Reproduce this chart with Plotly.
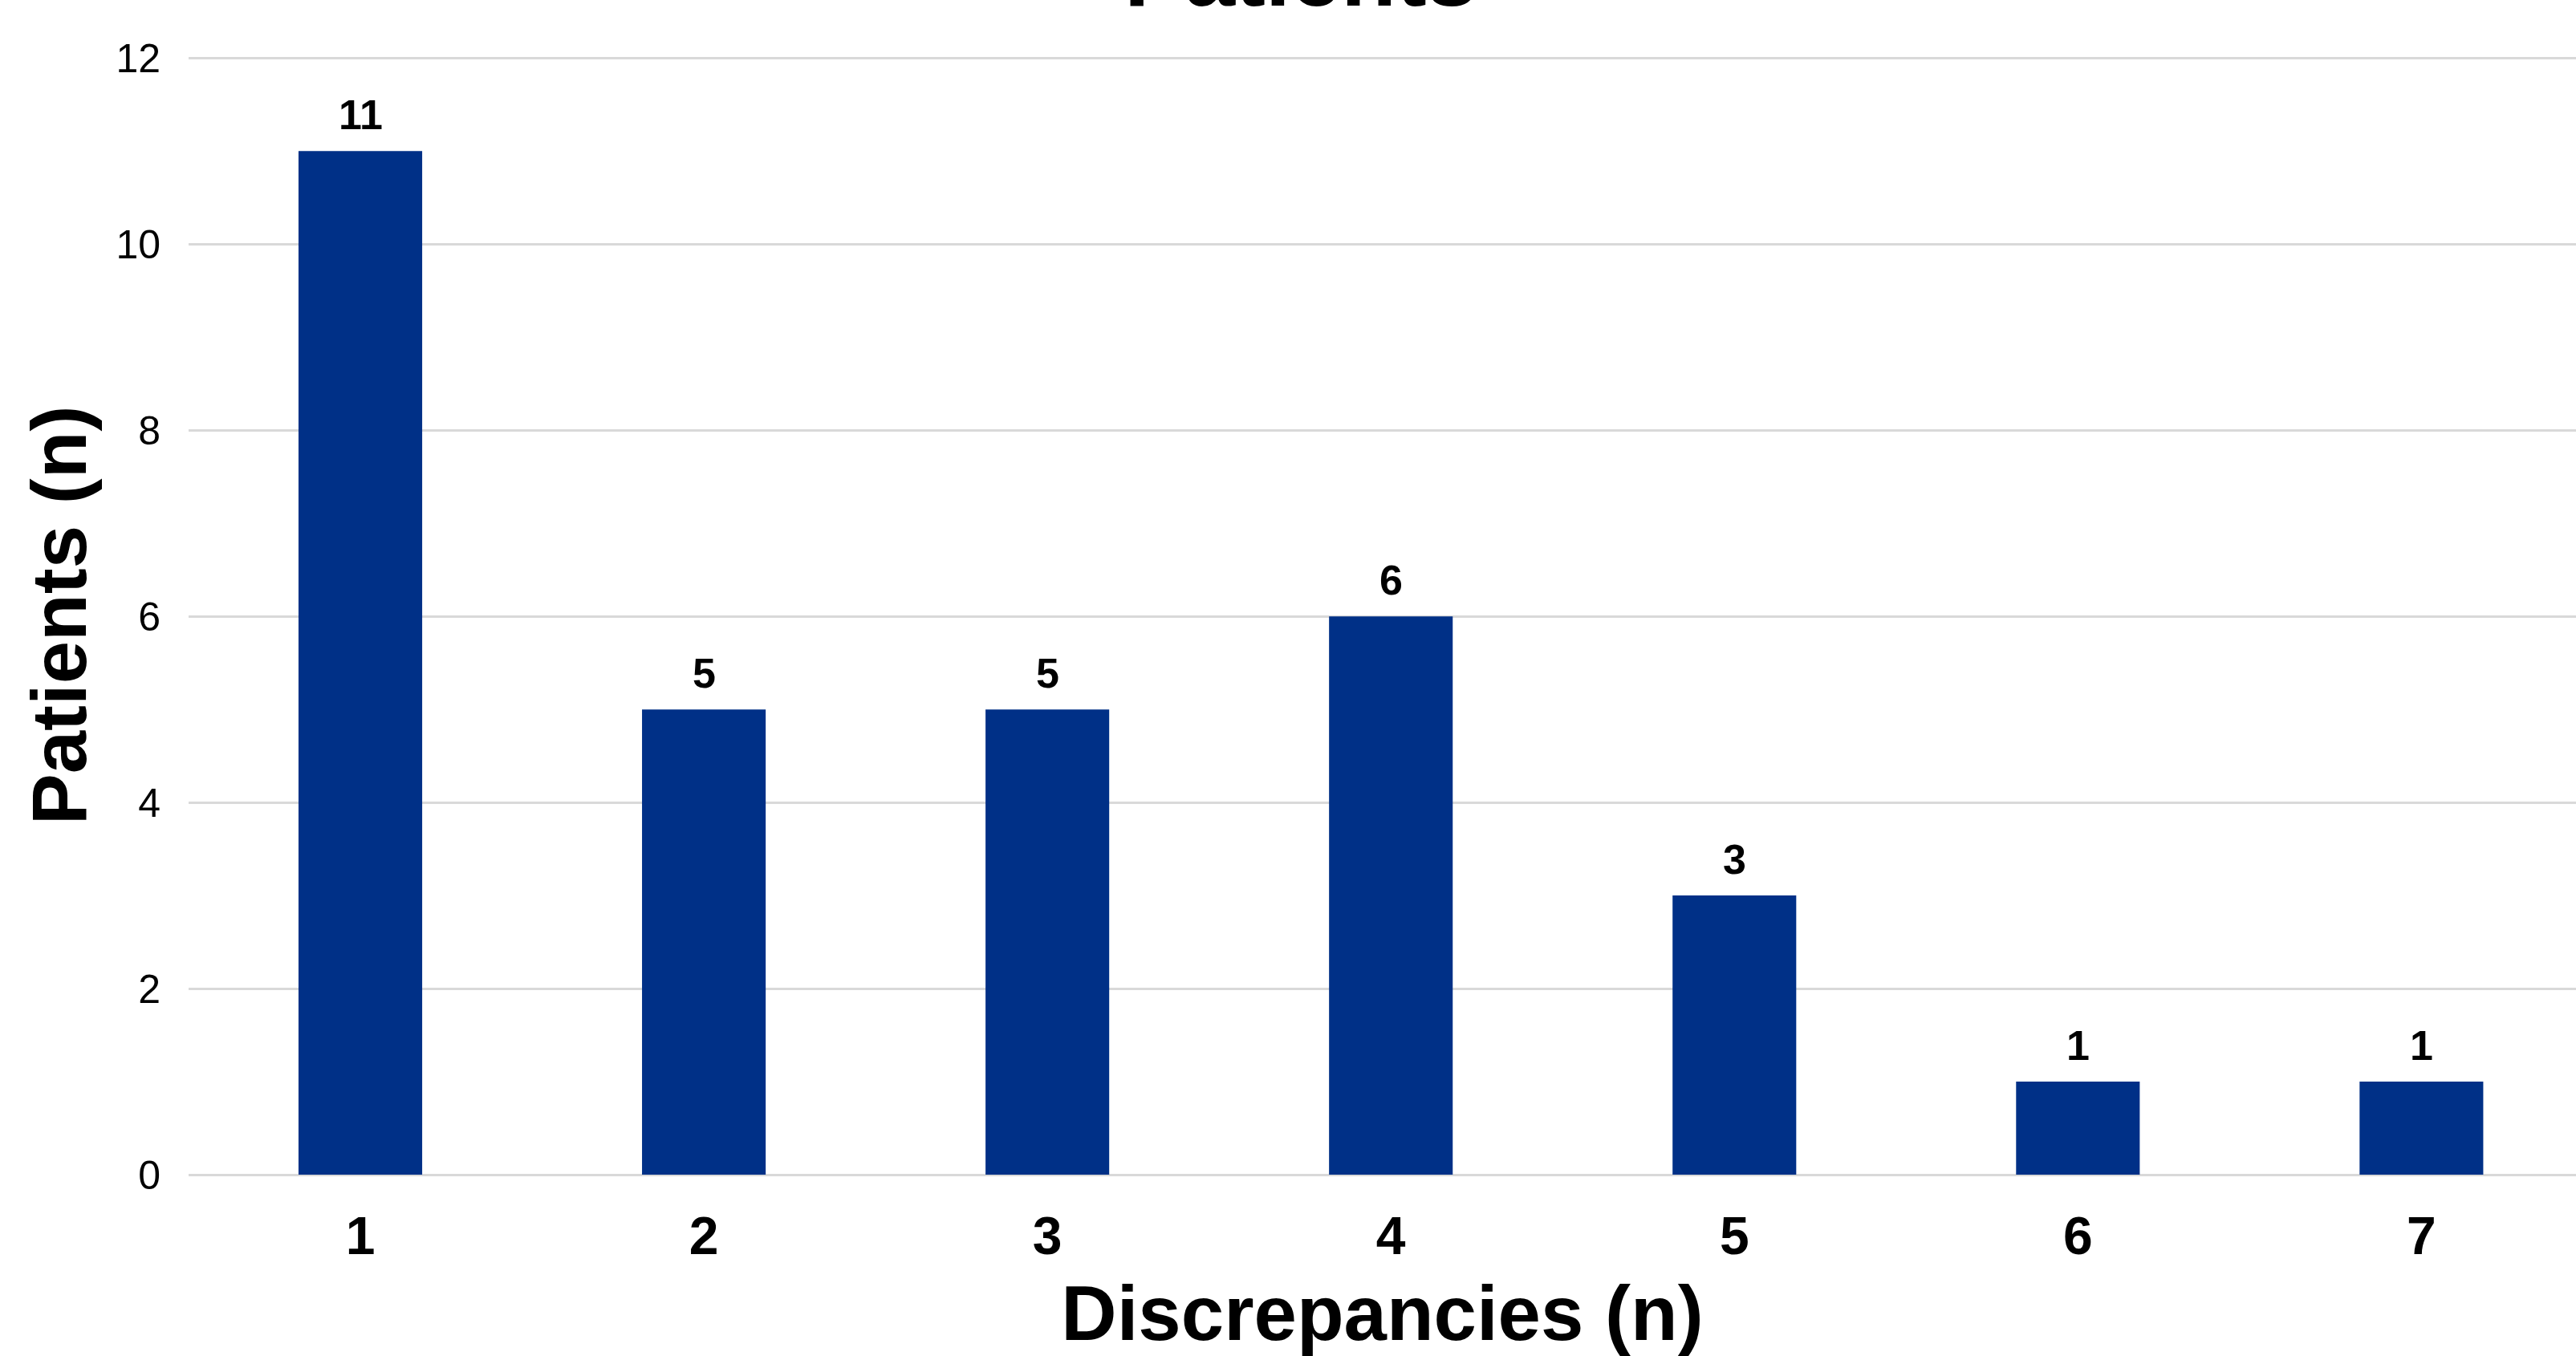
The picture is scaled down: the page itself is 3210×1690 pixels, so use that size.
import plotly.graph_objects as go

# Number of discrepancies per patient and how many patients had each count
discrepancies = ["1", "2", "3", "4", "5", "6", "7"]
patients = [11, 5, 5, 6, 3, 1, 1]
y_ticks = [0, 2, 4, 6, 8, 10, 12]

BAR_COLOR = "#003087"
FONT = "Arial, Liberation Sans, sans-serif"

fig = go.Figure(
    go.Bar(
        x=discrepancies,
        y=patients,
        marker=dict(color=BAR_COLOR, line=dict(width=0)),
        width=0.36,
        hoverinfo="x+y",
    )
)

# Value labels above each bar (category axis: position by index)
for idx, val in enumerate(patients):
    fig.add_annotation(
        x=idx, y=val, text=f"<b>{val}</b>", showarrow=False,
        yanchor="bottom", yshift=14,
        font=dict(family=FONT, size=52, color="#000000"),
    )

# Chart heading
fig.add_annotation(
    xref="paper", yref="paper", x=0.466, y=1.0265, yanchor="bottom",
    text="<b>Patients</b>", showarrow=False,
    font=dict(family=FONT, size=113, color="#000000"),
)

fig.update_layout(
    width=3210, height=1690,
    margin=dict(l=235, r=0, t=70, b=226, autoexpand=False),
    paper_bgcolor="#ffffff", plot_bgcolor="#ffffff",
    showlegend=False,
    font=dict(family=FONT, color="#000000"),
)

fig.update_xaxes(
    type="category",
    range=[-0.5, 6.45],
    showgrid=False, showline=False, zeroline=False, ticks="",
    tickfont=dict(family=FONT, size=66, color="#000000"),
    tickprefix="<b>", ticksuffix="</b>",
    ticklabelstandoff=32,
    title=dict(text="<b>Discrepancies (n)</b>", font=dict(family=FONT, size=96, color="#000000"), standoff=32),
    automargin=False,
)

fig.update_yaxes(
    range=[0, 12.02],
    tickvals=y_ticks,
    showgrid=True, gridcolor="#d9d9d9", gridwidth=3,
    zeroline=True, zerolinecolor="#d9d9d9", zerolinewidth=3,
    showline=False, ticks="",
    tickfont=dict(family=FONT, size=50, color="#000000"),
    ticklabelstandoff=34,
    title=dict(text="<b>Patients (n)</b>", font=dict(family=FONT, size=96, color="#000000"), standoff=4),
    automargin=False,
)

fig.write_html("out.html")
